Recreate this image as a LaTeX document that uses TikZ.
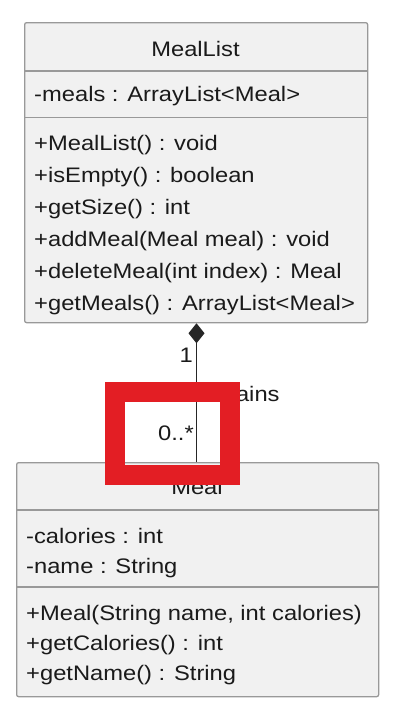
\documentclass[tikz,border=0pt]{standalone}
\usepackage{fontspec}
\setmainfont{Liberation Sans}[FakeStretch=1.13]
\usetikzlibrary{arrows.meta}
\definecolor{boxfill}{HTML}{F1F1F1}
\definecolor{boxline}{HTML}{999999}
\definecolor{txt}{HTML}{1A1A1A}
\definecolor{hired}{HTML}{E31E24}
\tikzset{
  umlbox/.style={draw=boxline, fill=boxfill, line width=1.3pt, rounded corners=2pt, anchor=north west, inner sep=0pt},
  sepline/.style={draw=boxline, line width=1.3pt},
  lbl/.style={anchor=base west, inner sep=0pt, text=txt, font=\fontsize{21}{25}\selectfont},
  ttl/.style={anchor=base, inner sep=0pt, text=txt, font=\fontsize{21}{25}\selectfont},
  conn/.style={draw=black!85, line width=1pt},
}
\begin{document}
\begin{tikzpicture}[x=1pt,y=-1pt]
\useasboundingbox (0,0) rectangle (410,720);
% MealList box
\node[umlbox, minimum width=343pt, minimum height=300pt] (ml) at (24,22) {};
\draw[sepline] (24,71) -- (367,71);
\draw[sepline] (24,117.5) -- (367,117.5);
\node[ttl] (mlt) at (195.5,56.5) {MealList};
\node[lbl] (mla) at (34,101.5) {-meals : ArrayList<Meal>};
\node[lbl] (mlm1) at (34,150) {+MealList() : void};
\node[lbl] (mlm2) at (34,182) {+isEmpty() : boolean};
\node[lbl] (mlm3) at (34,214) {+getSize() : int};
\node[lbl] (mlm4) at (34,246) {+addMeal(Meal meal) : void};
\node[lbl] (mlm5) at (34,278) {+deleteMeal(int index) : Meal};
\node[lbl] (mlm6) at (34,310) {+getMeals() : ArrayList<Meal>};
% Meal box
\node[umlbox, minimum width=362pt, minimum height=234pt] (m) at (16,462) {};
\draw[sepline] (16,510) -- (378,510);
\draw[sepline] (16,587) -- (378,587);
\node[ttl] (mt) at (197,494) {Meal};
\node[lbl] (ma1) at (26,543) {-calories : int};
\node[lbl] (ma2) at (26,573) {-name : String};
\node[lbl] (mm1) at (26,620) {+Meal(String name, int calories)};
\node[lbl] (mm2) at (26,650) {+getCalories() : int};
\node[lbl] (mm3) at (26,680) {+getName() : String};
% composition
\coordinate (cx) at (196.5,0);
\draw[conn, -{Diamond[length=20pt, width=16pt, fill=black!85]}] (cx |- m.north) -- (cx |- ml.south);
\node[lbl, anchor=base east] (one) at (193,362) {1};
\node[lbl] (role) at (191,401.5) {contains};
\node[lbl, anchor=base east] (many) at (194,440) {0..*};
% red highlight
\draw[hired, line width=20pt] (115,392) rectangle (230,475);
\end{tikzpicture}
\end{document}
